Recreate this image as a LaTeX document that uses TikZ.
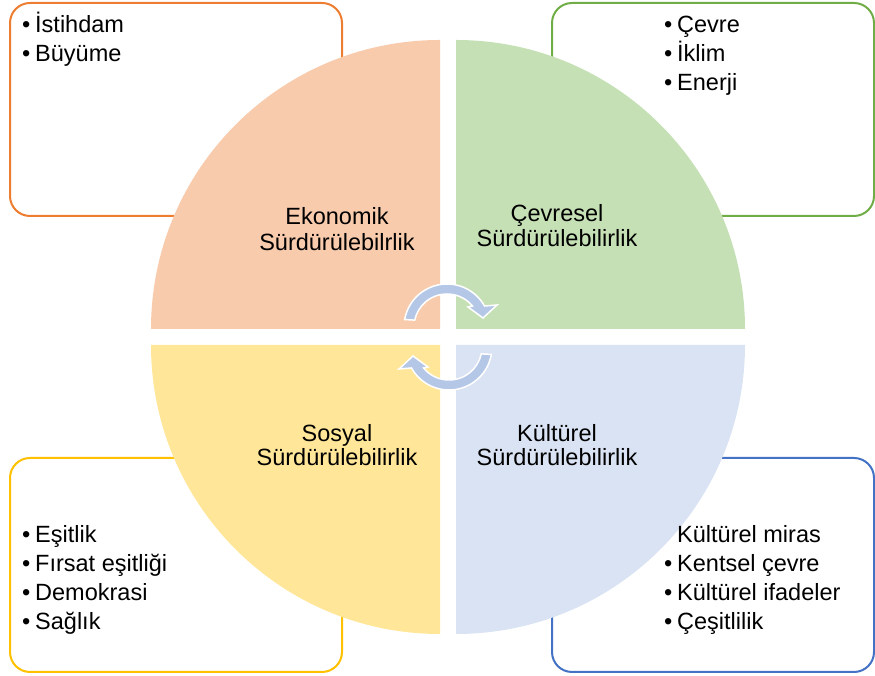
\documentclass[tikz,border=0pt]{standalone}
\usepackage{fontspec}
\setmainfont{Liberation Sans}
\definecolor{orline}{HTML}{ED7D31}
\definecolor{orfill}{HTML}{F8CBAD}
\definecolor{grline}{HTML}{70AD47}
\definecolor{grfill}{HTML}{C5E0B4}
\definecolor{yeline}{HTML}{FFC000}
\definecolor{yefill}{HTML}{FFE699}
\definecolor{blline}{HTML}{4472C4}
\definecolor{blfill}{HTML}{DAE3F3}
\definecolor{arrowblue}{HTML}{B4C7E7}
\newcommand\bul{\hbox to 13pt{\textbullet\hfil}}
\newcommand\nobul{\hbox to 13pt{\hfil}}
\begin{document}
\begin{tikzpicture}[x=1pt,y=1pt,
  boxline/.style={line width=2pt, rounded corners=20pt},
  lab/.style={font=\fontsize{23.5pt}{26pt}\selectfont, inner sep=0pt, anchor=base},
  item/.style={font=\fontsize{23.5pt}{29pt}\selectfont, inner sep=0pt, anchor=base west},
  arr/.style={fill=arrowblue, draw=white, line width=1.5pt, line join=miter}
]
\useasboundingbox (0,0) rectangle (875,676);
% boxes
\draw[boxline, draw=orline] (10,460) rectangle (342,673);
\draw[boxline, draw=grline] (552,460) rectangle (874,673);
\draw[boxline, draw=yeline] (10,4) rectangle (342,218);
\draw[boxline, draw=blline] (552,4) rectangle (874,218);
% quadrants
\fill[orfill] (440,347) -- ++(180:289pt) arc[start angle=180,end angle=90,radius=289pt] -- cycle;
\fill[grfill] (456,347) -- ++(90:289pt) arc[start angle=90,end angle=0,radius=289pt] -- cycle;
\fill[yefill] (440,331) -- ++(180:289pt) arc[start angle=180,end angle=270,radius=289pt] -- cycle;
\fill[blfill] (456,331) -- ++(0:289pt) arc[start angle=0,end angle=-90,radius=289pt] -- cycle;
% circular arrows
\begin{scope}[shift={(447,349)}]
\filldraw[arr] (170:43pt) arc[start angle=170,end angle=29.2,radius=43pt] -- (50,22) -- (36,9) -- (21,20) -- (39.5:33pt) arc[start angle=39.5,end angle=168,radius=33pt] -- cycle;
\end{scope}
\begin{scope}[shift={(449,329)}, rotate=180]
\filldraw[arr] (170:43pt) arc[start angle=170,end angle=29.2,radius=43pt] -- (50,22) -- (36,9) -- (21,20) -- (39.5:33pt) arc[start angle=39.5,end angle=168,radius=33pt] -- cycle;
\end{scope}
% quadrant labels
\node[lab] (eko1) at (337,451) {Ekonomik};
\node[lab] (eko2) at (337,425) {Sürdürülebilrlik};
\node[lab] (cev1) at (557,454) {Çevresel};
\node[lab] (cev2) at (557,429) {Sürdürülebilirlik};
\node[lab] (sos1) at (337,234) {Sosyal};
\node[lab] (sos2) at (337,210) {Sürdürülebilirlik};
\node[lab] (kul1) at (557,234) {Kültürel};
\node[lab] (kul2) at (557,210) {Sürdürülebilirlik};
% lists
\node[item] (tl1) at (22,643) {\bul İstihdam};
\node[item] (tl2) at (22,614) {\bul Büyüme};
\node[item] (tr1) at (664,643) {\bul Çevre};
\node[item] (tr2) at (664,614) {\bul İklim};
\node[item] (tr3) at (664,585) {\bul Enerji};
\node[item] (bl1) at (22,133) {\bul Eşitlik};
\node[item] (bl2) at (22,104) {\bul Fırsat eşitliği};
\node[item] (bl3) at (22,75) {\bul Demokrasi};
\node[item] (bl4) at (22,46) {\bul Sağlık};
\node[item] (br1) at (664,133) {\nobul Kültürel miras};
\node[item] (br2) at (664,104) {\bul Kentsel çevre};
\node[item] (br3) at (664,75) {\bul Kültürel ifadeler};
\node[item] (br4) at (664,46) {\bul Çeşitlilik};
\end{tikzpicture}
\end{document}
